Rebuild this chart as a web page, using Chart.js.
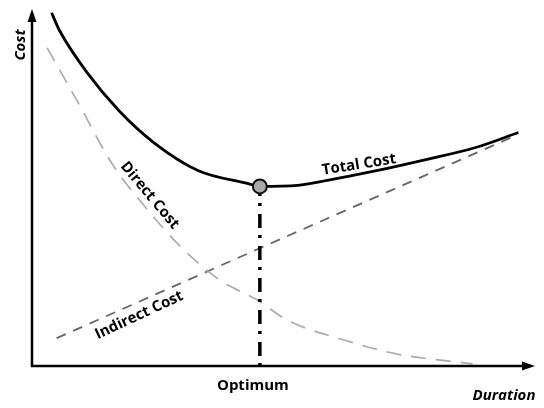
<!DOCTYPE html>
<html>
<head>
<meta charset="utf-8">
<script src="https://cdn.jsdelivr.net/npm/chart.js@4/dist/chart.umd.min.js"></script>
<style>
  html,body{margin:0;padding:0;background:#fff;}
  #c{display:block;}
</style>
</head>
<body>
<canvas id="c" width="544" height="408"></canvas>
<script>
// values (duration 0-100, cost 0-100)
const totalX    = [3.9, 5.5, 11, 17.3, 24.2, 33.1, 43, 45.3, 52.8, 58.7, 68.5, 78.3, 88.2, 96.7];
const totalY    = [98.9, 93.9, 82.1, 71.5, 62.6, 54.7, 51.1, 50.3, 50.6, 52, 54.7, 57.8, 61.2, 65.4];
const directX   = [3, 9.4, 15.9, 22.6, 29.7, 37.4, 44.9, 50.8, 62, 72.4, 87.6];
const directY   = [89.1, 73.2, 56.7, 44.4, 33.2, 24, 18.4, 12.8, 7.3, 3.4, 0.6];
const indirectX = [4.9, 45.3, 96.1];
const indirectY = [7.8, 33, 64.5];
const optimumX  = 45.3;
const optimumY  = 50.3;

const pts=(xs,ys)=>xs.map((x,i)=>({x,y:ys[i]}));
const FONT='"Open Sans", "Liberation Sans", sans-serif';

// axes with arrows + text labels
const decor={
  id:'decor',
  afterDatasetsDraw(chart){
    const {ctx,chartArea:a,scales:{x,y}}=chart;
    ctx.save();
    ctx.strokeStyle='#000';ctx.fillStyle='#000';ctx.lineWidth=2.5;ctx.lineCap='butt';
    // y axis
    ctx.beginPath();ctx.moveTo(a.left,a.bottom+1);ctx.lineTo(a.left,a.top+10);ctx.stroke();
    ctx.beginPath();ctx.moveTo(a.left,a.top);ctx.lineTo(a.left-4.5,a.top+13);ctx.lineTo(a.left+4.5,a.top+13);ctx.closePath();ctx.fill();
    // x axis
    ctx.beginPath();ctx.moveTo(a.left-1,a.bottom);ctx.lineTo(a.right-10,a.bottom);ctx.stroke();
    ctx.beginPath();ctx.moveTo(a.right,a.bottom);ctx.lineTo(a.right-13,a.bottom-4.5);ctx.lineTo(a.right-13,a.bottom+4.5);ctx.closePath();ctx.fill();

    const label=(txt,px,py,ang,font)=>{
      ctx.save();ctx.translate(px,py);ctx.rotate(ang*Math.PI/180);
      ctx.font=font;ctx.textAlign='center';ctx.textBaseline='middle';ctx.fillText(txt,0,0);ctx.restore();
    };
    label('Cost',a.left-11,a.top+36,-90,'italic bold 15px '+FONT);
    label('Duration',a.right-31,a.bottom+30,0,'italic bold 15px '+FONT);
    label('Optimum',x.getPixelForValue(optimumX)-7,a.bottom+20,0,'bold 15px '+FONT);
    label('Total Cost',x.getPixelForValue(65),y.getPixelForValue(56.4),-9,'bold 15px '+FONT);
    label('Direct Cost',x.getPixelForValue(23.4),y.getPixelForValue(47.8),50,'bold 15px '+FONT);
    label('Indirect Cost',x.getPixelForValue(21.3),y.getPixelForValue(14.2),-25,'bold 15px '+FONT);
    ctx.restore();
  }
};

new Chart(document.getElementById('c'),{
  type:'line',
  data:{datasets:[
    {label:'Optimum',data:[{x:optimumX,y:0},{x:optimumX,y:optimumY}],borderColor:'#000',borderWidth:3.5,
     borderDash:[3,7,14,8],pointRadius:0,order:3},
    {label:'Direct Cost',data:pts(directX,directY),borderColor:'#ababab',borderWidth:1.7,borderDash:[15,10],
     pointRadius:0,cubicInterpolationMode:'monotone',order:4},
    {label:'Indirect Cost',data:pts(indirectX,indirectY),borderColor:'#666',borderWidth:1.8,borderDash:[10,8],
     pointRadius:0,order:4},
    {label:'Total Cost',data:pts(totalX,totalY),borderColor:'#000',borderWidth:2.8,
     pointRadius:0,cubicInterpolationMode:'monotone',order:2},
    {label:'Point',data:[{x:optimumX,y:optimumY}],showLine:false,pointRadius:7,pointBackgroundColor:'#a9a9a9',
     pointBorderColor:'#111',pointBorderWidth:2,order:1}
  ]},
  options:{
    responsive:false,animation:false,
    layout:{padding:{left:32,right:4,top:8,bottom:42}},
    scales:{
      x:{type:'linear',min:0,max:100,display:false},
      y:{min:0,max:100,display:false}
    },
    plugins:{legend:{display:false},tooltip:{enabled:false}},
    elements:{line:{fill:false}},
    clip:false
  },
  plugins:[decor]
});
</script>
</body>
</html>
